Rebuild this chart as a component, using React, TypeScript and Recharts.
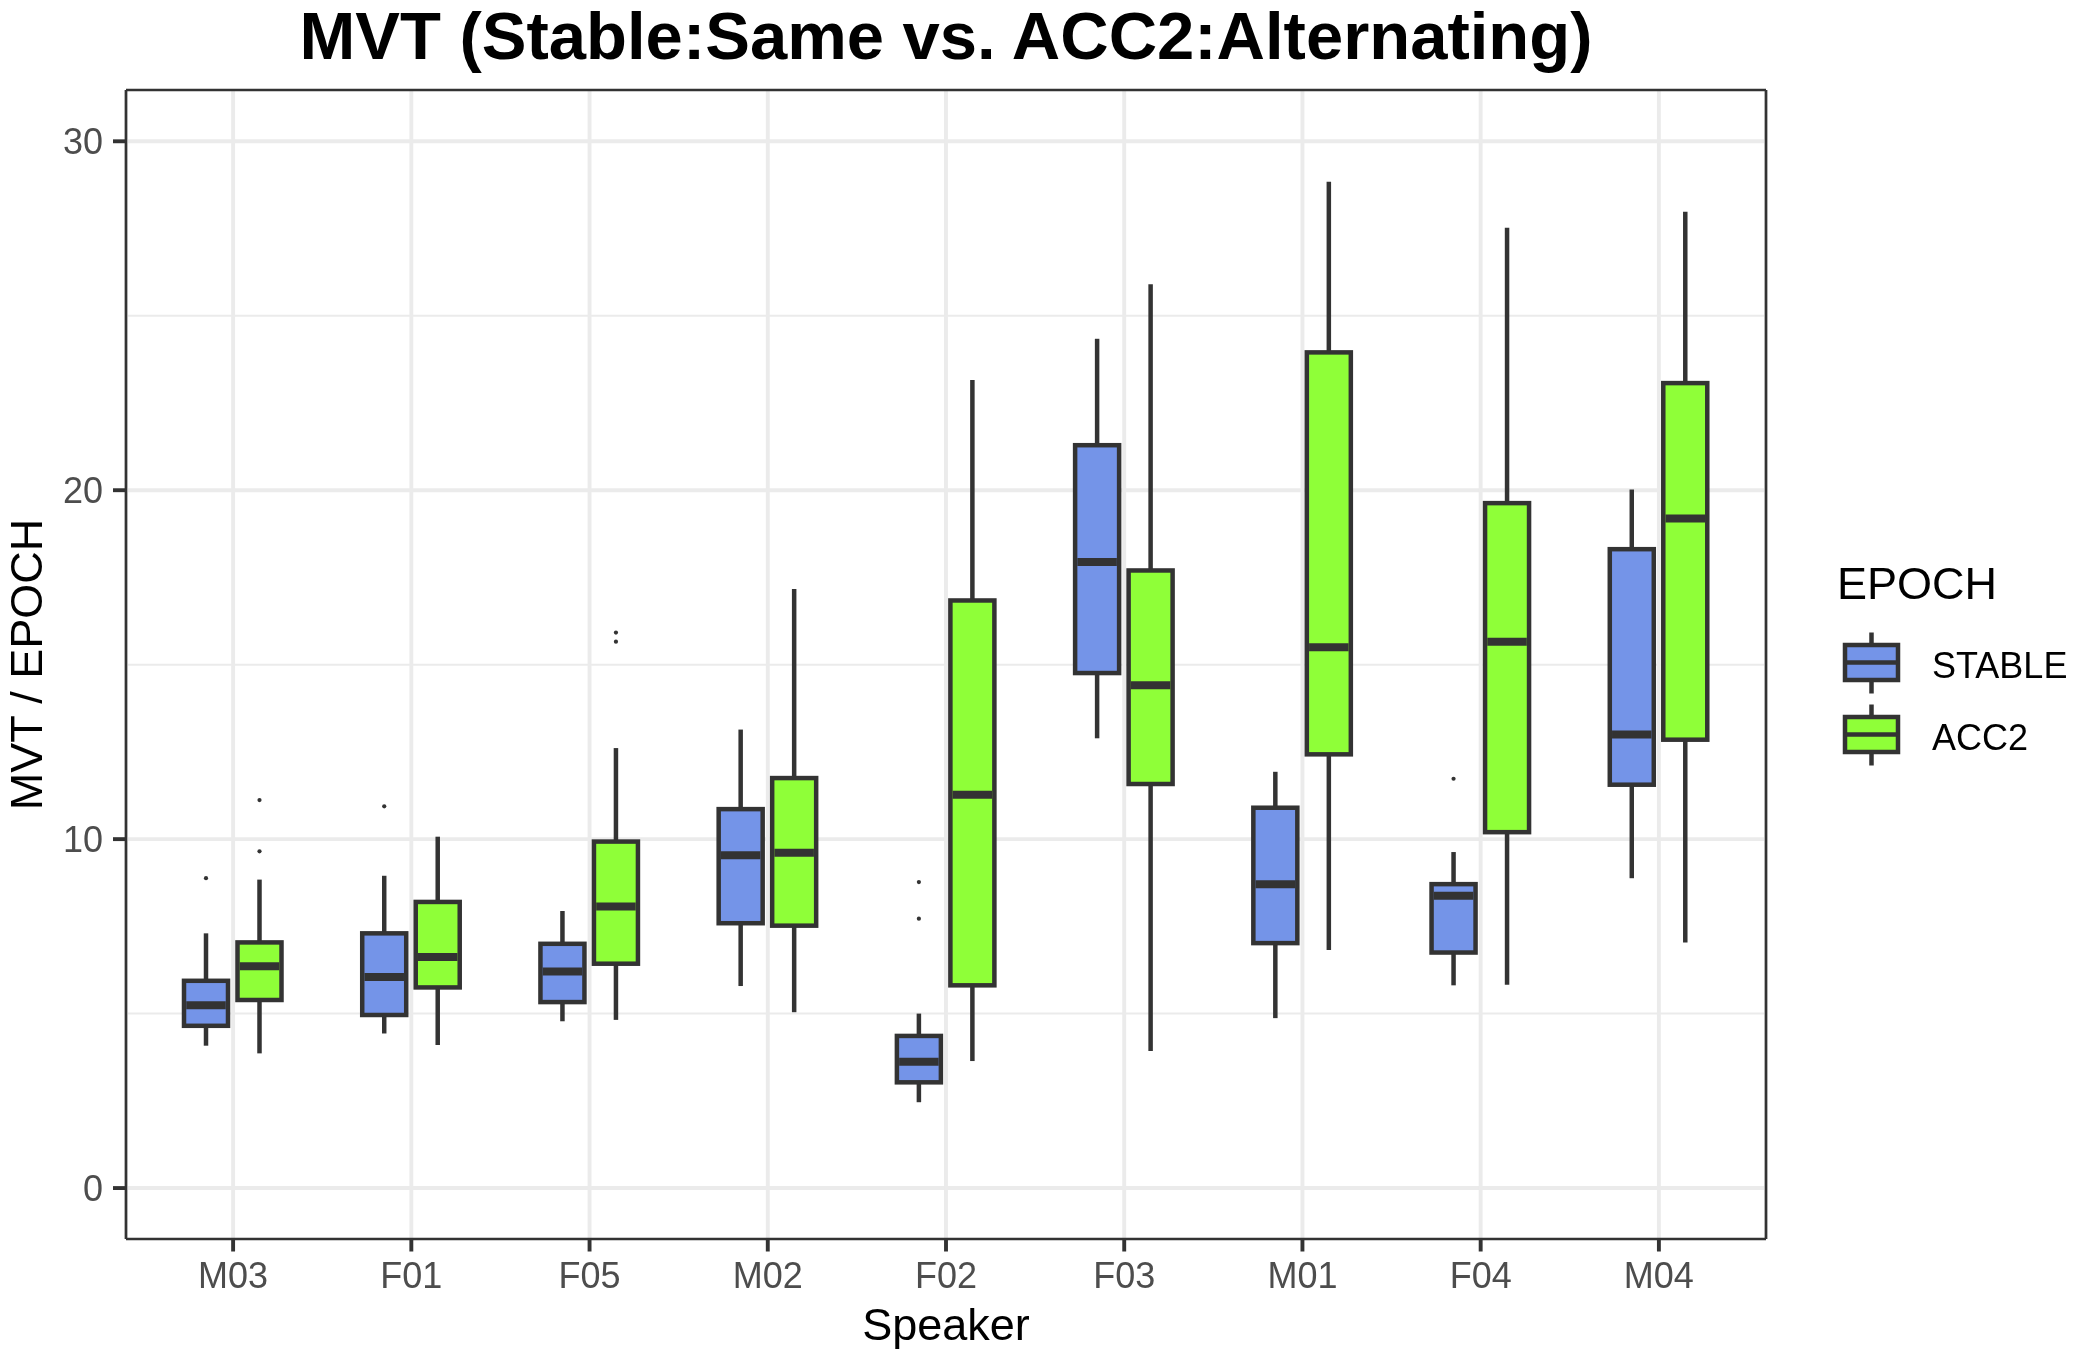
import React from 'react';
import { ComposedChart, Bar, XAxis, YAxis, CartesianGrid, Legend } from 'recharts';

const speakers = ['M03', 'F01', 'F05', 'M02', 'F02', 'F03', 'M01', 'F04', 'M04'];

const stableMin = [4.08, 4.43, 4.78, 5.79, 2.46, 12.89, 4.87, 5.81, 8.88];
const stableQ1 = [4.65, 4.96, 5.33, 7.59, 3.03, 14.76, 7.02, 6.75, 11.56];
const stableMedian = [5.24, 6.05, 6.21, 9.54, 3.62, 17.94, 8.71, 8.38, 13.0];
const stableQ3 = [5.94, 7.3, 7.0, 10.86, 4.36, 21.29, 10.9, 8.71, 18.31];
const stableMax = [7.3, 8.95, 7.94, 13.14, 5.0, 24.34, 11.93, 9.63, 20.02];
const stableOutliers = [[8.88], [10.94], [], [], [8.77, 7.72], [], [], [11.73], []];

const acc2Min = [3.86, 4.1, 4.82, 5.04, 3.64, 3.93, 6.82, 5.83, 7.04];
const acc2Q1 = [5.39, 5.75, 6.43, 7.52, 5.81, 11.58, 12.43, 10.2, 12.85];
const acc2Median = [6.36, 6.62, 8.07, 9.61, 11.27, 14.41, 15.5, 15.66, 19.19];
const acc2Q3 = [7.04, 8.2, 9.93, 11.75, 16.84, 17.7, 23.95, 19.63, 23.07];
const acc2Max = [8.84, 10.07, 12.61, 17.17, 23.16, 25.9, 28.84, 27.52, 27.98];
const acc2Outliers = [[9.65, 11.12], [], [15.66, 15.92], [], [], [], [], [], []];

const majorTicks = [0, 10, 20, 30];
const minorTicks = [5, 15, 25];
const legendOrder = ['STABLE', 'ACC2'];

const data = speakers.map((speaker, i) => ({
  speaker,
  stable: {
    min: stableMin[i],
    q1: stableQ1[i],
    med: stableMedian[i],
    q3: stableQ3[i],
    max: stableMax[i],
    out: stableOutliers[i],
  },
  acc2: {
    min: acc2Min[i],
    q1: acc2Q1[i],
    med: acc2Median[i],
    q3: acc2Q3[i],
    max: acc2Max[i],
    out: acc2Outliers[i],
  },
}));

const FONT = '"Liberation Sans", Arial, Helvetica, sans-serif';
const EDGE = '#333333';
const STABLE_FILL = '#7494E8';
const ACC2_FILL = '#8FFF38';
const LW = 4.5;
const MED_LW = 8;
const DOMAIN: [number, number] = [-1.46, 31.47];

function makeBoxShape(key: 'stable' | 'acc2') {
  return (props: any) => {
    const { x, y, width, height, payload, fill } = props;
    const st = payload[key];
    const top = Math.min(y, y + height);
    const h = Math.abs(height);
    const k = h / (st.q3 - st.q1);
    const py = (v: number) => top + (st.q3 - v) * k;
    const cx = x + width / 2;
    return (
      <g>
        <line x1={cx} x2={cx} y1={py(st.max)} y2={top} stroke={EDGE} strokeWidth={LW} />
        <line x1={cx} x2={cx} y1={top + h} y2={py(st.min)} stroke={EDGE} strokeWidth={LW} />
        <rect x={x} y={top} width={width} height={h} fill={fill} stroke={EDGE} strokeWidth={LW} />
        <line x1={x + LW / 2} x2={x + width - LW / 2} y1={py(st.med)} y2={py(st.med)} stroke={EDGE} strokeWidth={MED_LW} />
        {st.out.map((v: number, j: number) => (
          <circle key={j} cx={cx} cy={py(v)} r={2.1} fill={EDGE} />
        ))}
      </g>
    );
  };
}

const LegendContent = (props: any) => {
  const items = props.payload || [];
  const ordered = legendOrder
    .map((name) => items.find((it: any) => it.value === name))
    .filter(Boolean);
  return (
    <svg width={247} height={240} style={{ overflow: 'visible' }}>
      <text x={7} y={59} fontSize={45} fontFamily={FONT} fill="#000">
        EPOCH
      </text>
      {ordered.map((it: any, i: number) => {
        const cy = 122.5 + i * 72;
        return (
          <g key={i}>
            <line x1={41.5} x2={41.5} y1={cy - 30} y2={cy + 31} stroke={EDGE} strokeWidth={LW} />
            <rect x={15} y={cy - 17.5} width={53} height={35} fill={it.color} stroke={EDGE} strokeWidth={LW} />
            <line x1={15} x2={68} y1={cy} y2={cy} stroke={EDGE} strokeWidth={LW} />
            <text x={102} y={cy + 15} fontSize={36} fontFamily={FONT} fill="#000">
              {it.value}
            </text>
          </g>
        );
      })}
    </svg>
  );
};

export default function App() {
  return (
    <div style={{ position: 'fixed', left: 0, top: 0, width: 2077, height: 1357, background: '#fff', fontFamily: FONT }}>
      <div
        style={{
          position: 'absolute',
          left: 0,
          top: 2,
          width: 1892,
          textAlign: 'center',
          fontSize: 67,
          lineHeight: '67px',
          fontWeight: 'bold',
          fontFamily: FONT,
          color: '#000',
          whiteSpace: 'nowrap',
        }}
      >
        MVT (Stable:Same vs. ACC2:Alternating)
      </div>
      <ComposedChart
        width={2077}
        height={1357}
        data={data}
        margin={{ top: 89, right: 310, bottom: 0, left: 0 }}
        barSize={44}
        barGap={9.5}
        style={{ position: 'absolute', left: 0, top: 0 }}
      >
        <CartesianGrid horizontalValues={minorTicks} vertical={false} stroke="#EBEBEB" strokeWidth={2} />
        <CartesianGrid horizontalValues={majorTicks} stroke="#EBEBEB" strokeWidth={3.9} />
        <XAxis
          dataKey="speaker"
          type="category"
          height={118}
          padding={{ left: 18, right: 18 }}
          axisLine={{ stroke: EDGE, strokeWidth: 2.6 }}
          tickLine={{ stroke: EDGE, strokeWidth: 3.9 }}
          tickSize={12.5}
          tickMargin={11}
          tick={{ fontSize: 36, fill: '#4D4D4D', fontFamily: FONT }}
          interval={0}
          label={{
            content: (p: any) => {
              const vb = p.viewBox;
              return (
                <text x={vb.x + vb.width / 2} y={vb.y + 101} textAnchor="middle" fontSize={45} fontFamily={FONT} fill="#000">
                  Speaker
                </text>
              );
            },
          }}
        />
        <XAxis
          xAxisId="top"
          dataKey="speaker"
          orientation="top"
          height={1}
          tick={false}
          tickLine={false}
          axisLine={{ stroke: EDGE, strokeWidth: 2.6 }}
        />
        <YAxis
          type="number"
          domain={DOMAIN}
          ticks={majorTicks}
          width={126}
          axisLine={{ stroke: EDGE, strokeWidth: 2.6 }}
          tickLine={{ stroke: EDGE, strokeWidth: 3.9 }}
          tickSize={13}
          tickMargin={10}
          tick={{ fontSize: 36, fill: '#4D4D4D', fontFamily: FONT }}
          allowDataOverflow
          label={{
            content: (p: any) => {
              const vb = p.viewBox;
              const cx = 42;
              const cy = vb.y + vb.height / 2;
              return (
                <text x={cx} y={cy} transform={`rotate(-90, ${cx}, ${cy})`} textAnchor="middle" fontSize={45} fontFamily={FONT} fill="#000">
                  MVT / EPOCH
                </text>
              );
            },
          }}
        />
        <YAxis
          yAxisId="right"
          orientation="right"
          width={1}
          tick={false}
          tickLine={false}
          domain={DOMAIN}
          allowDataOverflow
          axisLine={{ stroke: EDGE, strokeWidth: 2.6 }}
        />
        <Bar
          name="STABLE"
          dataKey={(d: any) => [d.stable.q1, d.stable.q3]}
          fill={STABLE_FILL}
          shape={makeBoxShape('stable')}
          isAnimationActive={false}
        />
        <Bar
          name="ACC2"
          dataKey={(d: any) => [d.acc2.q1, d.acc2.q3]}
          fill={ACC2_FILL}
          shape={makeBoxShape('acc2')}
          isAnimationActive={false}
        />
        <Legend
          layout="horizontal"
          align="center"
          verticalAlign="middle"
          wrapperStyle={{ left: 1830, top: 540, width: 247, height: 240 }}
          content={LegendContent}
        />
      </ComposedChart>
    </div>
  );
}
